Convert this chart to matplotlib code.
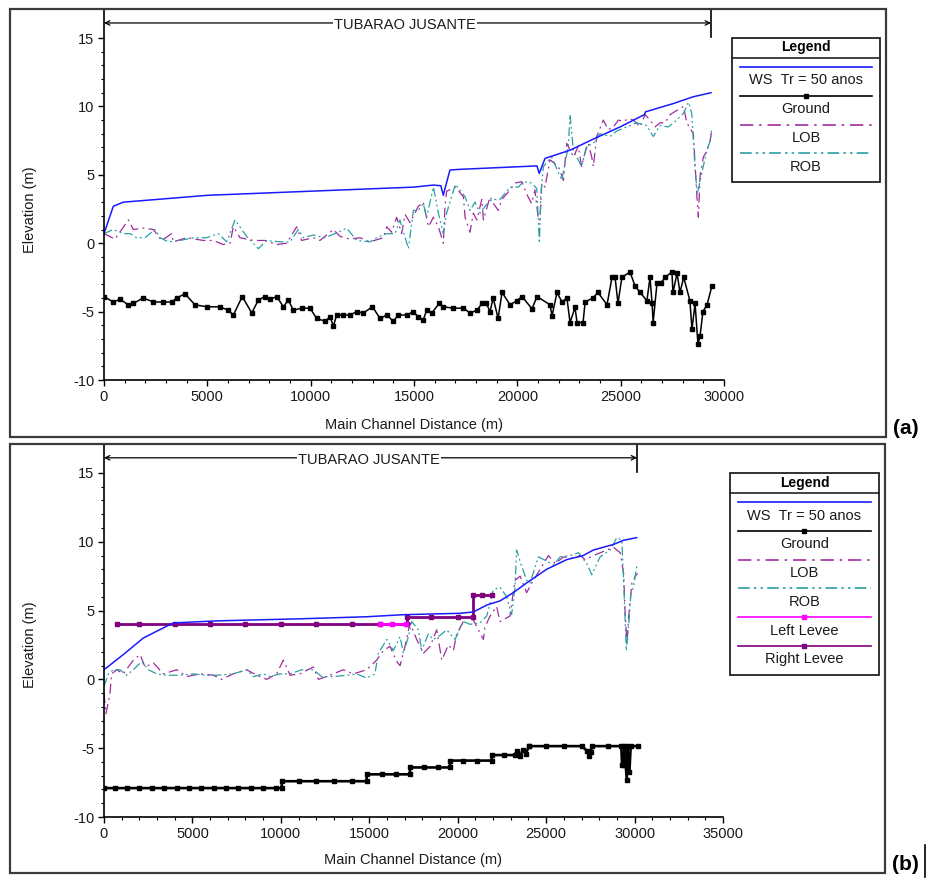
import numpy as np
import matplotlib
matplotlib.use('Agg')
import matplotlib.pyplot as plt
from matplotlib.patches import Rectangle
from matplotlib.ticker import MultipleLocator

plt.rcParams['font.family'] = ['Liberation Sans', 'DejaVu Sans']
plt.rcParams['axes.unicode_minus'] = False

# ---------------- panel (a) data ----------------
ws_a_x = [0, 450, 935, 5000, 9970, 15000, 15940, 16300, 16420, 16500, 16740, 17230, 20950,
          21060, 21340, 22550, 23660, 24970, 26150, 26200, 27530, 28500, 29370]
ws_a_y = [0.7, 2.7, 3.0, 3.5, 3.8, 4.1, 4.25, 4.2, 3.5, 4.0, 5.35, 5.4, 5.65,
          5.1, 6.2, 6.8, 7.6, 8.5, 9.4, 9.6, 10.2, 10.7, 11.0]

ground_a_x = [0, 450, 770, 1180, 1420, 1900, 2390, 2870, 3270, 3520, 3920, 4400, 4970, 5610,
              6020, 6260, 6690, 7150, 7470, 7790, 8030, 8360, 8680, 8920, 9160, 9560, 9970,
              10290, 10690, 10940, 11100, 11260, 11580, 11900, 12230, 12550, 12990, 13360,
              13680, 14000, 14240, 14650, 14970, 15210, 15450, 15610, 15860, 16220, 16420,
              16900, 17390, 17710, 18050, 18290, 18500, 18680, 18830, 19070, 19260, 19650,
              19980, 20230, 20710, 20950, 21580, 21680, 21920, 22160, 22400, 22550, 22790,
              22890, 23180, 23280, 23660, 23900, 24340, 24580, 24730, 24870, 25060, 25450,
              25690, 25940, 26270, 26420, 26520, 26570, 26760, 26950, 27150, 27480, 27530,
              27730, 27870, 28050, 28350, 28450, 28600, 28740, 28840, 28980, 29180, 29420]
ground_a_y = [-3.9, -4.3, -4.1, -4.5, -4.4, -4.0, -4.3, -4.3, -4.3, -4.0, -3.7, -4.5, -4.65, -4.65,
              -4.9, -5.25, -3.9, -5.1, -4.15, -3.9, -4.1, -3.9, -4.65, -4.15, -4.9, -4.75, -4.75,
              -5.5, -5.7, -5.4, -6.05, -5.25, -5.25, -5.25, -5.0, -5.1, -4.65, -5.5,
              -5.25, -5.7, -5.25, -5.25, -5.0, -5.4, -5.6, -4.9, -5.1, -4.4, -4.65,
              -4.75, -4.75, -5.1, -4.9, -4.4, -4.4, -5.0, -4.0, -5.5, -3.6, -4.5,
              -4.2, -3.9, -4.8, -3.9, -4.5, -5.3, -3.6, -4.3, -4.0, -5.8, -4.7,
              -5.8, -5.8, -4.3, -4.0, -3.6, -4.5, -2.5, -2.5, -4.4, -2.5, -2.1,
              -3.1, -3.6, -4.2, -2.5, -4.4, -5.8, -2.9, -2.9, -2.5, -2.1, -3.6,
              -2.2, -3.6, -2.5, -4.2, -6.3, -4.4, -7.4, -6.8, -5.0, -4.5, -3.1]

lob_a_x = [0, 530, 1180, 1420, 1900, 2390, 2790, 3270, 3350, 4000, 4810, 5290, 5770, 6100,
           6260, 6580, 7230, 7790, 8360, 8840, 9320, 9560, 10130, 10450, 11100, 11420, 11900,
           12390, 12870, 13520, 13680, 13920, 14160, 14400, 14570, 14810, 15210, 15450, 15700,
           15940, 16180, 16420, 16500, 16580, 17000, 17390, 17470, 17710, 17870, 18040, 18280,
           18360, 18680, 18840, 19080, 19250, 19650, 19890, 20220, 20450, 20690, 20850, 21020,
           21100, 21180, 21340, 21580, 21990, 22230, 22390, 22720, 22950, 23110, 23270, 23430,
           23600, 23680, 23840, 24160, 24400, 24650, 24890, 25130, 25370, 25620, 25940, 26180,
           26420, 26660, 26900, 27150, 27390, 27710, 28040, 28200, 28520, 28680, 28760, 28840,
           29000, 29160, 29330, 29410]
lob_a_y = [0.7, 0.3, 1.7, 1.0, 1.1, 1.0, 0.2, 0.7, 0.1, 0.4, 0.2, 0.2, -0.1, 0.0,
           1.2, 0.4, 0.2, 0.2, -0.1, 0.0, 1.2, 0.2, 0.4, 0.2, 1.0, 0.5, 0.3,
           0.4, 0.1, 0.4, 1.2, 0.8, 1.9, 0.7, 2.1, 1.5, 2.7, 3.0, 1.2,
           1.9, 1.2, 0.0, 2.7, 3.8, 4.1, 3.4, 1.9, 0.8, 2.2, 1.7, 3.2,
           1.7, 3.4, 2.9, 2.4, 3.2, 3.9, 4.4, 4.5, 3.6, 2.9, 3.9, 1.7,
           1.7, 4.4, 4.1, 6.1, 5.6, 4.6, 7.3, 6.3, 7.1, 5.6, 6.6, 7.3,
           6.3, 5.6, 7.8, 9.0, 8.3, 8.5, 9.0, 8.9, 9.1, 9.0, 8.5, 9.4,
           9.0, 8.5, 8.8, 8.8, 9.4, 9.7, 10.0, 8.8, 8.0, 3.6, 1.9, 4.9,
           6.3, 6.7, 7.5, 8.3]

rob_a_x = [0, 450, 940, 1260, 1580, 1980, 2470, 2710, 3110, 3680, 4320, 4970, 5530, 5940,
           6340, 6900, 7470, 7870, 8520, 9000, 9400, 9650, 10130, 10690, 11180, 11740, 12230,
           12870, 13190, 13680, 14080, 14320, 14730, 14970, 15210, 15450, 15610, 15940, 16180,
           16420, 16580, 17000, 17470, 17710, 17950, 18200, 18440, 18760, 19160, 19650, 20050,
           20290, 20690, 20940, 21070, 21130, 21260, 21660, 22150, 22470, 22550, 22710, 23110,
           23350, 23680, 24000, 24490, 24810, 25290, 25780, 26260, 26580, 26900, 27310, 27710,
           28040, 28280, 28440, 28600, 28710, 28920, 29160, 29330, 29410]
rob_a_y = [0.7, 1.0, 0.7, 0.7, 0.4, 0.4, 1.0, 0.4, 0.1, 0.2, 0.4, 0.4, 0.7, 0.1,
           1.7, 0.5, -0.4, 0.2, 0.1, 0.1, 1.0, 0.4, 0.6, 0.4, 0.7, 1.1, 0.2,
           0.1, 0.4, 0.7, 0.7, 1.7, -0.4, 2.4, 2.4, 2.9, 1.9, 4.1, 2.2,
           0.7, 2.2, 4.3, 3.4, 2.4, 3.0, 2.2, 2.7, 3.2, 3.2, 4.1, 4.1,
           4.5, 4.4, 4.0, 0.0, 3.4, 5.6, 6.3, 4.6, 7.1, 9.4, 6.8, 5.6,
           7.1, 7.3, 8.0, 7.8, 8.2, 8.5, 8.8, 8.6, 7.8, 8.6, 8.5, 9.0,
           9.5, 10.3, 9.5, 5.4, 3.6, 5.1, 6.7, 7.5, 8.4]

# ---------------- panel (b) data ----------------
ws_b_x = [0, 1090, 2220, 2980, 3920, 6370, 11080, 14850, 16930, 20130, 20890, 21640, 22390,
          23140, 23890, 25030, 26160, 27100, 27670, 28800, 29360, 30120]
ws_b_y = [0.7, 1.8, 3.0, 3.5, 4.1, 4.25, 4.4, 4.55, 4.7, 4.8, 4.9, 5.4, 5.7,
          6.3, 7.0, 8.0, 8.7, 9.0, 9.4, 9.8, 10.1, 10.3]

ground_b_x = [0, 600, 1300, 2000, 2700, 3400, 4100, 4800, 5500, 6200, 6900, 7600, 8300, 9000,
              9700, 10050, 10050, 11000, 12000, 13000, 14000, 14850, 14850, 15700, 16500,
              17300, 17300, 18100, 18900, 19570, 19570, 20300, 21100, 21920, 21920, 22600,
              23240, 23330, 23520, 23700, 23850, 24030, 24030, 25000, 26000, 27000, 27330,
              27420, 27510, 27600, 28500, 29250, 29290, 29400, 29420, 29560, 29580, 29710,
              29780, 30220]
ground_b_y = [-7.9, -7.9, -7.9, -7.9, -7.9, -7.9, -7.9, -7.9, -7.9, -7.9, -7.9, -7.9, -7.9, -7.9,
              -7.9, -7.9, -7.4, -7.4, -7.4, -7.4, -7.4, -7.4, -6.9, -6.9, -6.9,
              -6.9, -6.4, -6.4, -6.4, -6.4, -5.9, -5.9, -5.9, -5.9, -5.5, -5.5,
              -5.5, -5.2, -5.6, -5.1, -5.4, -4.85, -4.85, -4.85, -4.85, -4.85, -5.2,
              -5.6, -5.3, -4.85, -4.85, -4.85, -6.2, -6.2, -4.85, -7.3, -4.85, -6.7,
              -4.85, -4.85]

lob_b_x = [0, 110, 340, 430, 720, 1090, 1660, 2040, 2320, 2790, 3360, 4110, 4670, 5430,
           6180, 6650, 7310, 8070, 8630, 9200, 9760, 10140, 10520, 11080, 11840, 12120, 12780,
           13530, 14100, 14850, 15420, 15800, 16170, 16550, 16740, 17020, 17300, 17680, 18060,
           18440, 18810, 19100, 19470, 19760, 19940, 20320, 20600, 20890, 21170, 21450, 21540,
           21830, 22200, 22390, 22950, 23240, 23530, 23900, 24190, 24660, 25130, 25510, 25980,
           26550, 26920, 27210, 27680, 28250, 28810, 29190, 29380, 29470, 29570, 29660, 29850,
           30040, 30170]
lob_b_y = [-1.0, -2.5, -1.0, 0.4, 0.7, 0.4, 1.4, 1.8, 0.9, 1.2, 0.4, 0.7, 0.2, 0.4,
           0.3, 0.0, 0.4, 0.7, 0.3, 0.0, 0.4, 1.4, 0.3, 0.4, 0.9, 0.0, 0.3,
           0.7, 0.4, 0.7, 1.4, 2.1, 2.4, 1.3, 1.0, 2.4, 4.1, 2.9, 1.9,
           2.4, 3.6, 1.4, 2.5, 2.1, 3.3, 4.2, 4.6, 4.3, 3.6, 2.9, 3.8,
           4.6, 5.3, 4.2, 4.6, 7.2, 7.5, 6.3, 7.0, 8.0, 9.0, 8.4, 8.9,
           8.8, 9.0, 8.7, 9.0, 9.3, 9.6, 9.2, 7.7, 4.7, 2.6, 4.5, 7.0,
           7.5, 7.7]

rob_b_x = [0, 250, 530, 900, 1280, 1660, 2130, 2510, 2980, 3540, 4300, 5050, 5710, 6370,
           7310, 8070, 8440, 9010, 9390, 9950, 10520, 11180, 11840, 12310, 12970, 13720, 14290,
           14850, 15320, 15510, 15990, 16360, 16740, 16930, 17210, 17400, 17780, 17960, 18340,
           18620, 19000, 19380, 19850, 20320, 20700, 21260, 21640, 22010, 22390, 22770, 23050,
           23240, 23330, 23620, 23900, 24090, 24560, 25030, 25410, 25790, 26350, 26830, 27300,
           27580, 28050, 28620, 29000, 29280, 29380, 29530, 29660, 29790, 29940, 30130]
rob_b_y = [-0.5, 0.4, 0.7, 0.7, 0.3, 0.7, 1.3, 0.7, 0.4, 0.3, 0.3, 0.4, 0.3, 0.3,
           0.4, 0.7, 0.2, 0.4, 0.2, 0.4, 0.4, 0.7, 0.7, 0.2, 0.2, 0.3, 0.4,
           0.1, 0.4, 1.9, 2.9, 2.1, 3.1, 1.9, 3.1, 4.2, 3.6, 2.1, 3.3,
           2.9, 3.2, 3.6, 2.9, 4.2, 4.0, 4.1, 4.6, 6.5, 6.7, 6.0, 4.7,
           6.7, 9.4, 8.2, 7.2, 7.0, 8.9, 8.6, 8.3, 8.9, 9.0, 9.2, 8.4,
           7.6, 8.9, 9.4, 10.3, 10.1, 7.2, 2.1, 3.8, 6.2, 6.7, 8.3]

left_levee_x = [15600, 16300, 17100]
left_levee_y = [4.0, 4.0, 4.0]
right_levee_x = [716, 2000, 4000, 6000, 8000, 10000, 12000, 14000, 15600, 17120, 17120,
                 18500, 20000, 20890, 20890, 21400, 21920]
right_levee_y = [4.0, 4.0, 4.0, 4.0, 4.0, 4.0, 4.0, 4.0, 4.0, 4.0, 4.5,
                 4.5, 4.5, 4.5, 6.1, 6.1, 6.1]

reach_name = 'TUBARAO JUSANTE'
reach_end_a = 29370
reach_end_b = 30140

# ---------------- styles ----------------
C_WS = '#1a1aff'
C_LOB = '#a02ca0'
C_ROB = '#2aa0a0'
C_LL = '#ff00ff'
C_RL = '#800080'
LOB_DASH = (0, (8, 3.5, 1.5, 3.5))
ROB_DASH = (0, (7, 2.5, 1.5, 2.5, 1.5, 2.5))
TXT = '#1a1a1a'

W, H = 927, 880
fig = plt.figure(figsize=(W / 100, H / 100), dpi=100)


def px_axes(left, top, right, bottom):
    return fig.add_axes([left / W, 1 - bottom / H, (right - left) / W, (bottom - top) / H])


def style_axes(ax, xmax, ytop):
    ax.set_xlim(0, xmax)
    ax.set_ylim(-10, ytop)
    ax.patch.set_visible(False)
    for s in ['top', 'right']:
        ax.spines[s].set_visible(False)
    for s in ['left', 'bottom']:
        ax.spines[s].set_linewidth(1.2)
        ax.spines[s].set_color('black')
    ax.set_yticks([-10, -5, 0, 5, 10, 15])
    ax.set_xticks(np.arange(0, xmax + 1, 5000))
    ax.xaxis.set_minor_locator(MultipleLocator(1000))
    ax.set_yticks(np.arange(-10, 16, 1), minor=True)
    ax.tick_params(which='major', direction='out', length=4, width=1, labelsize=10.5,
                   labelcolor=TXT, pad=3)
    ax.tick_params(which='minor', direction='out', length=2.5, width=0.8)


def reach_marker(ax, xend, ytop, xtext):
    ax.annotate('', xy=(0, 16.1), xytext=(xend, 16.1),
                arrowprops=dict(arrowstyle='<->', lw=0.9, color='black', mutation_scale=8,
                                shrinkA=0, shrinkB=0), annotation_clip=False)
    ax.plot([xend, xend], [15.1, ytop], color='black', lw=1.2, clip_on=False)
    ax.text(xtext, 15.95, reach_name, ha='center', va='center', fontsize=10.5, color=TXT,
            bbox=dict(facecolor='white', edgecolor='none', pad=0.5))


# ---------------- panel (a) ----------------
ytop_a = 17.12
ax1 = px_axes(104, 9, 724, 380)
style_axes(ax1, 30000, ytop_a)
ax1.plot(ground_a_x, ground_a_y, color='black', lw=1.1, marker='s', ms=2.2)
ax1.plot(lob_a_x, lob_a_y, color=C_LOB, lw=0.9, linestyle=LOB_DASH)
ax1.plot(rob_a_x, rob_a_y, color=C_ROB, lw=0.9, linestyle=ROB_DASH)
ax1.plot(ws_a_x, ws_a_y, color=C_WS, lw=1.1)
reach_marker(ax1, reach_end_a, ytop_a, 14560)

# ---------------- panel (b) ----------------
ytop_b = 17.03
ax2 = px_axes(104, 445, 723, 817)
style_axes(ax2, 35000, ytop_b)
ax2.plot(ground_b_x, ground_b_y, color='black', lw=1.9, marker='s', ms=2.2)
ax2.plot(lob_b_x, lob_b_y, color=C_LOB, lw=0.9, linestyle=LOB_DASH)
ax2.plot(rob_b_x, rob_b_y, color=C_ROB, lw=0.9, linestyle=ROB_DASH)
ax2.plot(right_levee_x, right_levee_y, color=C_RL, lw=2.0, marker='s', ms=2.2)
ax2.plot(left_levee_x, left_levee_y, color=C_LL, lw=2.0, marker='s', ms=2.2)
ax2.plot(ws_b_x, ws_b_y, color=C_WS, lw=1.1)
reach_marker(ax2, reach_end_b, ytop_b, 14980)

# ---------------- overlay: frames, labels, legends ----------------
ov = fig.add_axes([0, 0, 1, 1])
ov.set_xlim(0, W)
ov.set_ylim(H, 0)
ov.axis('off')
ov.patch.set_visible(False)
ov.set_zorder(5)

ov.add_patch(Rectangle((10.5, 9), 876, 428, fill=False, lw=1.6, ec='#3a3a3a'))
ov.add_patch(Rectangle((10.5, 444), 874.5, 429, fill=False, lw=1.6, ec='#3a3a3a'))
ov.text(906, 428, '(a)', ha='center', va='center', fontsize=15, fontweight='bold')
ov.text(905, 864, '(b)', ha='center', va='center', fontsize=15, fontweight='bold')
ov.plot([925, 925], [845, 877], color='black', lw=1.2)

for yc in (210, 645):
    ov.text(30, yc, 'Elevation (m)', rotation=90, ha='center', va='center', fontsize=10.5,
            color=TXT)
ov.text(414, 425, 'Main Channel Distance (m)', ha='center', va='center', fontsize=10.5,
        color=TXT)
ov.text(413, 860, 'Main Channel Distance (m)', ha='center', va='center', fontsize=10.5,
        color=TXT)


def draw_legend(left, top, right, entries):
    row = 28.8
    sep = top + 20
    bottom = sep + 38 + row * (len(entries) - 1)
    ov.add_patch(Rectangle((left, top), right - left, bottom - top, fc='white', ec='#222222',
                           lw=1.3))
    ov.plot([left, right], [sep, sep], color='#222222', lw=1.2)
    ov.text((left + right) / 2, top + 9.5, 'Legend', ha='center', va='center', fontsize=10,
            fontweight='bold')
    for i, (label, color, ls, marker) in enumerate(entries):
        yl = sep + 9 + row * i
        ov.plot([left + 8, right - 8], [yl, yl], color=color, lw=1.2, linestyle=ls)
        if marker:
            ov.plot([(left + right) / 2], [yl], marker='s', ms=2.2, color=color)
        ov.text((left + right) / 2, yl + 13.5, label, ha='center', va='center', fontsize=10.5,
                color=TXT)


base_entries = [('WS  Tr = 50 anos', C_WS, '-', False),
                ('Ground', 'black', '-', True),
                ('LOB', C_LOB, LOB_DASH, False),
                ('ROB', C_ROB, ROB_DASH, False)]
draw_legend(732, 38, 880, base_entries)
draw_legend(730, 473, 879, base_entries + [('Left Levee', C_LL, '-', True),
                                           ('Right Levee', C_RL, '-', True)])

fig.savefig('out.png', dpi=100, facecolor='white')
